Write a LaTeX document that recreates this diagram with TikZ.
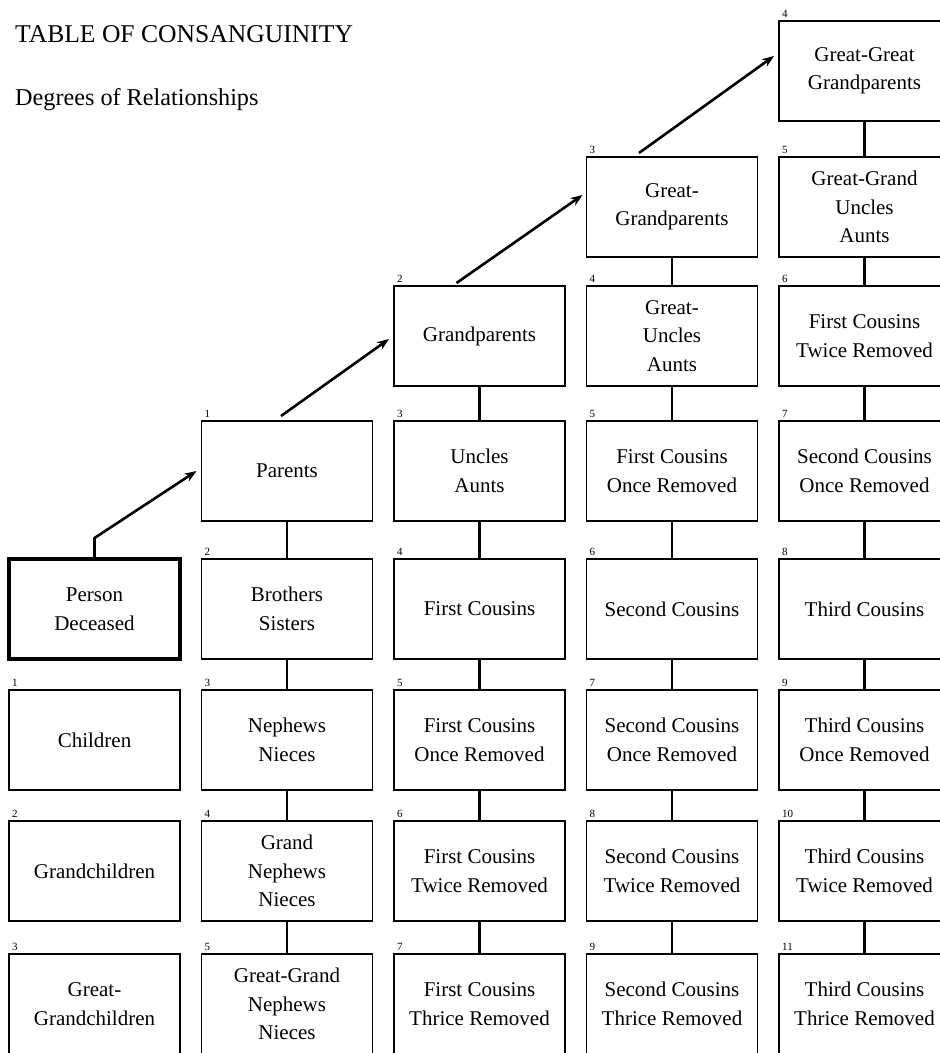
\documentclass[tikz,border=0pt]{standalone}
\usepackage{fontspec}
\setmainfont{Liberation Serif}
\usetikzlibrary{positioning, arrows.meta}

\newcommand{\kinfont}{\fontsize{21}{28.5}\selectfont}
\newcommand{\degfont}{\fontsize{11}{13}\selectfont}
\newcommand{\headfont}{\fontsize{25.6}{30}\selectfont}
\newcommand{\subheadfont}{\fontsize{24.2}{30}\selectfont}

\tikzset{
	kinbox/.style={draw, rectangle, line width=1.8pt, minimum width=171pt, minimum height=100pt,
		inner sep=0pt, outer sep=0pt, align=center, font=\kinfont},
	grade/.style={label={[anchor=south west, inner sep=3pt, font=\degfont]north west:#1}},
	link/.style={line width=2.6pt},
	climb/.style={->, line width=2.6pt}
}

\begin{document}
\begin{tikzpicture}[x=1pt, y=1pt, >={Stealth[length=12pt, width=9pt]}, on grid, node distance=133pt and 192.5pt]

	\useasboundingbox (0,0) rectangle (940,-1053);

	% --- Headings ---
	\node [anchor=base west, inner sep=0pt, font=\headfont] (Title) at (15,-42) {TABLE OF CONSANGUINITY};
	\node [anchor=base west, inner sep=0pt, font=\subheadfont] (Subtitle) at (15,-105) {Degrees of Relationships};

	% --- Begin Column 4 ---
	\node [kinbox, grade=4] (GreatGreatGrandparents) at (864.5,-71) {Great-Great\\Grandparents};
	\node [kinbox, grade=5, below=136pt of GreatGreatGrandparents] (GreatGrandUncles) {Great-Grand\\Uncles\\Aunts};
	\node [kinbox, grade=6, below=129pt of GreatGrandUncles] (FirstCousinsTwiceB) {First Cousins\\Twice Removed};
	\node [kinbox, grade=7, below=135pt of FirstCousinsTwiceB] (SecondCousinsOnceB) {Second Cousins\\Once Removed};
	\node [kinbox, grade=8, below=138pt of SecondCousinsOnceB] (ThirdCousins) {Third Cousins};
	\node [kinbox, grade=9, below=131pt of ThirdCousins] (ThirdCousinsOnce) {Third Cousins\\Once Removed};
	\node [kinbox, grade=10, below=131pt of ThirdCousinsOnce] (ThirdCousinsTwice) {Third Cousins\\Twice Removed};
	\node [kinbox, grade=11, below=of ThirdCousinsTwice] (ThirdCousinsThrice) {Third Cousins\\Thrice Removed};
	% --- End Column 4 ---

	% --- Begin Column 3 ---
	\node [kinbox, grade=3, left=of GreatGrandUncles] (GreatGrandparents) {Great-\\Grandparents};
	\node [kinbox, grade=4, below=129pt of GreatGrandparents] (GreatUncles) {Great-\\Uncles\\Aunts};
	\node [kinbox, grade=5, below=135pt of GreatUncles] (FirstCousinsOnceB) {First Cousins\\Once Removed};
	\node [kinbox, grade=6, below=138pt of FirstCousinsOnceB] (SecondCousins) {Second Cousins};
	\node [kinbox, grade=7, below=131pt of SecondCousins] (SecondCousinsOnce) {Second Cousins\\Once Removed};
	\node [kinbox, grade=8, below=131pt of SecondCousinsOnce] (SecondCousinsTwice) {Second Cousins\\Twice Removed};
	\node [kinbox, grade=9, below=of SecondCousinsTwice] (SecondCousinsThrice) {Second Cousins\\Thrice Removed};
	% --- End Column 3 ---

	% --- Begin Column 2 ---
	\node [kinbox, grade=2, left=of GreatUncles] (Grandparents) {Grandparents};
	\node [kinbox, grade=3, below=135pt of Grandparents] (UnclesAunts) {Uncles\\Aunts};
	\node [kinbox, grade=4, below=138pt of UnclesAunts] (FirstCousins) {First Cousins};
	\node [kinbox, grade=5, below=131pt of FirstCousins] (FirstCousinsOnce) {First Cousins\\Once Removed};
	\node [kinbox, grade=6, below=131pt of FirstCousinsOnce] (FirstCousinsTwice) {First Cousins\\Twice Removed};
	\node [kinbox, grade=7, below=of FirstCousinsTwice] (FirstCousinsThrice) {First Cousins\\Thrice Removed};
	% --- End Column 2 ---

	% --- Begin Column 1 ---
	\node [kinbox, grade=1, left=of UnclesAunts] (Parents) {Parents};
	\node [kinbox, grade=2, below=138pt of Parents] (BrothersSisters) {Brothers\\Sisters};
	\node [kinbox, grade=3, below=131pt of BrothersSisters] (NephewsNieces) {Nephews\\Nieces};
	\node [kinbox, grade=4, below=131pt of NephewsNieces] (GrandNephews) {Grand\\Nephews\\Nieces};
	\node [kinbox, grade=5, below=of GrandNephews] (GreatGrandNephews) {Great-Grand\\Nephews\\Nieces};
	% --- End Column 1 ---

	% --- Begin Column 0 ---
	\node [kinbox, line width=4.5pt, left=of BrothersSisters] (PersonDeceased) {Person\\Deceased};
	\node [kinbox, grade=1, below=131pt of PersonDeceased] (Children) {Children};
	\node [kinbox, grade=2, below=131pt of Children] (Grandchildren) {Grandchildren};
	\node [kinbox, grade=3, below=of Grandchildren] (GreatGrandchildren) {Great-\\Grandchildren};
	% --- End Column 0 ---

	% Connect the boxes in each column.
	\draw[link] (Parents) -- (BrothersSisters);
	\draw[link] (BrothersSisters) -- (NephewsNieces);
	\draw[link] (NephewsNieces) -- (GrandNephews);
	\draw[link] (GrandNephews) -- (GreatGrandNephews);

	\draw[link] (Grandparents) -- (UnclesAunts);
	\draw[link] (UnclesAunts) -- (FirstCousins);
	\draw[link] (FirstCousins) -- (FirstCousinsOnce);
	\draw[link] (FirstCousinsOnce) -- (FirstCousinsTwice);
	\draw[link] (FirstCousinsTwice) -- (FirstCousinsThrice);

	\draw[link] (GreatGrandparents) -- (GreatUncles);
	\draw[link] (GreatUncles) -- (FirstCousinsOnceB);
	\draw[link] (FirstCousinsOnceB) -- (SecondCousins);
	\draw[link] (SecondCousins) -- (SecondCousinsOnce);
	\draw[link] (SecondCousinsOnce) -- (SecondCousinsTwice);
	\draw[link] (SecondCousinsTwice) -- (SecondCousinsThrice);

	\draw[link] (GreatGreatGrandparents) -- (GreatGrandUncles);
	\draw[link] (GreatGrandUncles) -- (FirstCousinsTwiceB);
	\draw[link] (FirstCousinsTwiceB) -- (SecondCousinsOnceB);
	\draw[link] (SecondCousinsOnceB) -- (ThirdCousins);
	\draw[link] (ThirdCousins) -- (ThirdCousinsOnce);
	\draw[link] (ThirdCousinsOnce) -- (ThirdCousinsTwice);
	\draw[link] (ThirdCousinsTwice) -- (ThirdCousinsThrice);

	% Climb up the ancestors.
	\draw[climb] (PersonDeceased.north) -- ++(0,21) -- ([xshift=-5pt]Parents.west);
	\draw[climb] ([xshift=-6pt, yshift=5pt]Parents.north) -- ([xshift=-5pt, yshift=-3pt]Grandparents.west);
	\draw[climb] ([xshift=-23pt, yshift=3pt]Grandparents.north) -- ([xshift=-4pt, yshift=12pt]GreatGrandparents.west);
	\draw[climb] ([xshift=-33pt, yshift=4pt]GreatGrandparents.north) -- ([xshift=-5pt, yshift=15pt]GreatGreatGrandparents.west);

\end{tikzpicture}
\end{document}
